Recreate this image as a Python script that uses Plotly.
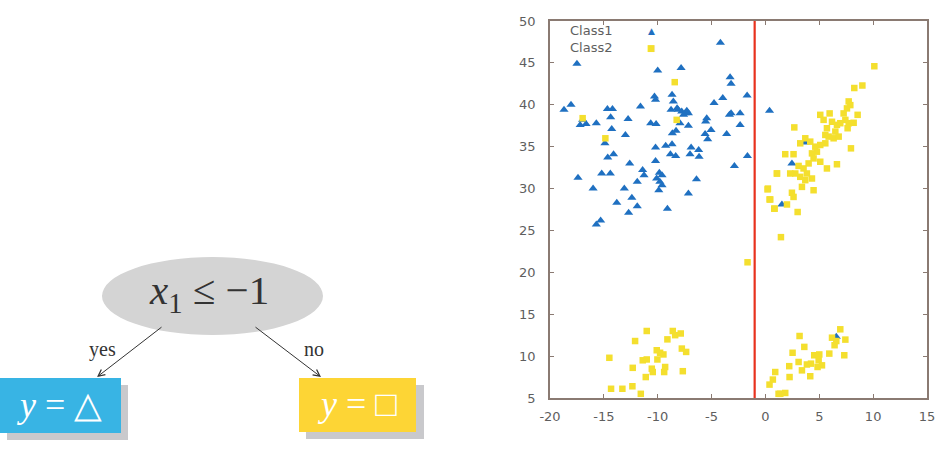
import plotly.graph_objects as go

# ---------------- data ----------------
class1_x = [-4.18, -17.5, -10.0, -7.83, -3.28, -3.19, -18.7, -18.05, -14.67, -14.2,
            -11.6, -10.3, -10.2, -8.67, -8.55, -8.76, -8.1, -7.77, -7.46, -7.15,
            -7.6, -4.77, -3.96, -1.7, -3.34, -3.19, -2.35, -2.35, -17.2, -16.65,
            -16.97, -15.7, -14.37, -14.27, -12.75, -13.0, -10.65, -10.15, -7.93, -7.15,
            -5.45, -5.55, -5.05, -5.6, -5.36, -3.6, -8.64, -8.3, -14.9, -14.64,
            -14.1, -10.2, -9.26, -8.67, -8.82, -8.33, -6.9, -6.2, -7.0, -6.16,
            -1.67, -10.2, -12.6, -2.88, -17.4, -15.2, -14.4, -11.4, -11.27, -11.9,
            -9.85, -9.6, -10.1, -9.8, -9.6, -9.9, -6.4, -16.0, -13.1, -12.4,
            -13.8, -11.9, -12.7, -9.1, -7.15, -15.3, -15.7, -8.2, -7.3, 0.38,
            3.7, 2.46, 1.53, 6.58]
class1_y = [47.4, 44.9, 44.1, 44.4, 43.3, 42.5, 39.4, 40.0, 39.5, 39.5,
            39.8, 41.0, 40.6, 41.2, 40.4, 39.4, 39.4, 39.2, 39.0, 39.0,
            38.8, 40.2, 40.8, 41.1, 38.8, 39.0, 39.0, 37.6, 37.6, 37.7,
            38.2, 37.8, 38.5, 37.1, 38.3, 36.4, 37.8, 37.7, 37.8, 37.5,
            38.4, 38.0, 37.0, 36.5, 35.9, 36.5, 36.6, 36.9, 35.4, 33.7,
            34.1, 34.9, 35.1, 35.3, 34.1, 33.9, 34.9, 34.6, 34.1, 33.8,
            33.9, 33.3, 33.0, 32.7, 31.3, 31.8, 31.8, 32.2, 31.6, 30.8,
            31.9, 31.6, 31.2, 30.8, 30.4, 29.8, 31.1, 30.0, 30.0, 28.9,
            28.3, 27.9, 27.1, 27.6, 29.4, 26.2, 25.7, 39.6, 39.3, 39.3,
            35.5, 33.0, 28.1, 12.3]

class2_x = [-8.42, -16.97, -8.24, -14.86, 0.23, 1.07, 0.38, 0.82,
            10.11, 8.25, 9.0, 7.73, 7.88, 7.57, 7.26, 8.56, 5.09, 5.96,
            5.4, 6.18, 6.64, 6.95, 7.42, 7.73, 8.19, 5.71, 5.56, 6.49,
            7.63, 2.68, 3.23, 3.7, 4.16, 4.63, 5.09, 5.87, 6.33, 6.8,
            5.56, 4.78, 4.32, 1.84, 2.61, 7.94, 6.64, 3.08, 3.54, 4.01,
            4.47, 5.09, 5.71, 3.85, 2.77, 2.3, 1.07, 3.23, 3.7, 4.32,
            3.39, 4.47, 0.2, 0.45, 2.46, 2.61, 0.85, 2.0, 2.99,
            1.44, -1.66,
            6.95, 3.17, 6.18, 6.58, 7.42, 6.42, 3.61, 2.52, 4.53, 5.0,
            5.93, 7.32, 3.08, 3.85, 4.23, 4.94, 5.25, 4.84, 2.21, 3.39,
            0.91, 4.16, 2.24, 0.69, 0.38, 1.38, 1.84, 1.22,
            -11.02, -12.1, -8.6, -8.38, -7.86, -9.1, -14.49, -10.09, -9.78, -9.47,
            -10.03, -7.76, -7.36, -11.39, -11.02, -12.32, -10.55, -10.46, -9.31, -9.4,
            -7.67, -11.11, -14.33, -13.28, -12.35, -11.57]
class2_y = [42.7, 38.4, 38.2, 36.0, 30.0, 31.8, 28.7, 27.6,
            44.6, 42.0, 42.3, 40.4, 39.96, 39.57, 38.97, 38.8, 38.8, 38.97,
            38.2, 37.97, 37.6, 37.8, 38.2, 37.8, 37.85, 37.2, 36.4, 36.8,
            37.2, 37.3, 35.4, 36.0, 35.6, 35.0, 35.2, 36.2, 36.0, 36.2,
            35.4, 34.4, 34.2, 34.1, 34.1, 34.8, 32.9, 32.7, 32.4, 33.0,
            33.6, 33.2, 32.4, 31.8, 31.8, 31.8, 31.8, 31.4, 31.0, 31.2,
            30.2, 29.8, 29.9, 28.7, 29.5, 29.0, 27.6, 28.1, 27.2,
            24.2, 21.2,
            13.2, 12.4, 12.2, 11.8, 11.97, 11.3, 11.1, 10.4, 10.1, 10.2,
            10.3, 10.1, 9.3, 9.0, 9.1, 9.5, 8.9, 8.7, 8.8, 8.3,
            8.1, 7.6, 7.5, 7.2, 6.6, 5.5, 5.6, 5.5,
            13.0, 11.8, 13.0, 12.5, 12.7, 12.0, 9.8, 10.7, 10.4, 10.2,
            9.6, 10.9, 10.5, 9.5, 9.6, 8.6, 8.5, 8.1, 8.7, 8.1,
            8.2, 7.5, 6.1, 6.1, 6.4, 5.5]

split_x = -1
x_range = [-20, 15]
y_range = [5, 50]
x_ticks = [-20, -15, -10, -5, 0, 5, 10, 15]
x_ticklabels = ["-20", "-15", "-10", "-5", "0", "5", "10", "15"]
y_ticks = [5, 10, 15, 20, 25, 30, 35, 40, 45, 50]
legend_names = ["Class1", "Class2"]

BLUE = "#1f70c1"
YELLOW = "#f4df2e"
RED = "#e8321e"
FRAME = "#8a7a72"

W, H = 951, 457

fig = go.Figure()

fig.add_trace(go.Scatter(
    x=class1_x, y=class1_y, mode="markers", name=legend_names[0],
    marker=dict(symbol="triangle-up", size=8, color=BLUE, line=dict(width=0)),
    xaxis="x", yaxis="y", showlegend=False))
fig.add_trace(go.Scatter(
    x=class2_x, y=class2_y, mode="markers", name=legend_names[1],
    marker=dict(symbol="square", size=6.5, color=YELLOW, line=dict(width=0)),
    xaxis="x", yaxis="y", showlegend=False))
fig.add_trace(go.Scatter(
    x=[split_x, split_x], y=y_range, mode="lines",
    line=dict(color=RED, width=2.2), xaxis="x", yaxis="y",
    showlegend=False, hoverinfo="skip"))

# plot area geometry (pixels)
L, R, T, B = 550, 927, 21, 398
axis_common = dict(showgrid=False, zeroline=False, showline=True, linecolor=FRAME,
                   linewidth=1.5, mirror="ticks", ticks="inside", ticklen=4,
                   tickcolor=FRAME, automargin=False,
                   tickfont=dict(family="DejaVu Sans", size=13, color="#5e5e5e"))
fig.update_layout(
    xaxis=dict(domain=[L / W, R / W], range=x_range, tickvals=x_ticks, ticktext=x_ticklabels,
               anchor="y", ticklabelstandoff=6, **axis_common),
    yaxis=dict(domain=[(H - B) / H, (H - T) / H], range=y_range, tickvals=y_ticks,
               anchor="x", ticklabelstandoff=10, **axis_common),
    xaxis2=dict(domain=[0, 0.5], range=[0, W * 0.5], visible=False, anchor="y2"),
    yaxis2=dict(domain=[0, 1], range=[H, 0], visible=False, anchor="x2"),
)

# legend (gnuplot style: label then sample)
for name, ypx, sym, col in [(legend_names[0], 31, "▲", BLUE), (legend_names[1], 48, "■", YELLOW)]:
    fig.add_annotation(xref="paper", yref="paper", x=568 / W, y=1 - ypx / H, text=name,
                       showarrow=False, xanchor="left", yanchor="middle",
                       font=dict(family="DejaVu Sans", size=13, color="#5e5e5e"))
    fig.add_annotation(xref="paper", yref="paper", x=651 / W, y=1 - ypx / H, text=sym,
                       showarrow=False, xanchor="center", yanchor="middle",
                       font=dict(family="DejaVu Sans", size=9, color=col))

# ---------------- decision tree diagram ----------------
shapes = []
shapes.append(dict(type="circle", xref="x2", yref="y2", x0=102, x1=323, y0=257, y1=335,
                   fillcolor="#d4d4d4", line=dict(width=0)))
shapes.append(dict(type="rect", xref="x2", yref="y2", x0=7, x1=128, y0=385, y1=440,
                   fillcolor="#c9c9cc", line=dict(width=0)))
shapes.append(dict(type="rect", xref="x2", yref="y2", x0=306, x1=424, y0=385, y1=439,
                   fillcolor="#c9c9cc", line=dict(width=0)))
shapes.append(dict(type="rect", xref="x2", yref="y2", x0=0, x1=121, y0=378, y1=433,
                   fillcolor="#38b4e4", line=dict(width=0)))
shapes.append(dict(type="rect", xref="x2", yref="y2", x0=299, x1=416, y0=378, y1=432,
                   fillcolor="#fdd535", line=dict(width=0)))
fig.update_layout(shapes=shapes)

serif = "Liberation Serif"
fig.add_annotation(xref="x2", yref="y2", x=209, y=293, text="<i>x</i><sub>1</sub> ≤ −1",
                   showarrow=False, font=dict(family=serif, size=41, color="#333333"))
fig.add_annotation(xref="x2", yref="y2", x=59, y=405, text="<i>y</i> = △",
                   showarrow=False, font=dict(family=serif, size=36, color="white"))
fig.add_annotation(xref="x2", yref="y2", x=357, y=404, text="<i>y</i> = □",
                   showarrow=False, font=dict(family=serif, size=36, color="white"))
fig.add_annotation(xref="x2", yref="y2", x=102, y=349, text="yes",
                   showarrow=False, font=dict(family=serif, size=20, color="#333333"))
fig.add_annotation(xref="x2", yref="y2", x=314, y=349, text="no",
                   showarrow=False, font=dict(family=serif, size=20, color="#333333"))
for (x0, y0, x1, y1) in [(163, 326, 97, 377), (254, 326, 321, 377)]:
    fig.add_annotation(xref="x2", yref="y2", axref="x2", ayref="y2", x=x1, y=y1, ax=x0, ay=y0,
                       text="", showarrow=True, arrowhead=5, arrowsize=1.3, arrowwidth=1,
                       arrowcolor="#333333", standoff=0, startstandoff=0)

fig.update_layout(width=W, height=H, margin=dict(l=0, r=0, t=0, b=0, autoexpand=False),
                  paper_bgcolor="white", plot_bgcolor="white", showlegend=False)

fig.write_html("out.html", config={"responsive": False},
               post_script="document.body.style.margin='0';document.body.style.padding='0';"
                           "document.body.style.overflow='hidden';")
